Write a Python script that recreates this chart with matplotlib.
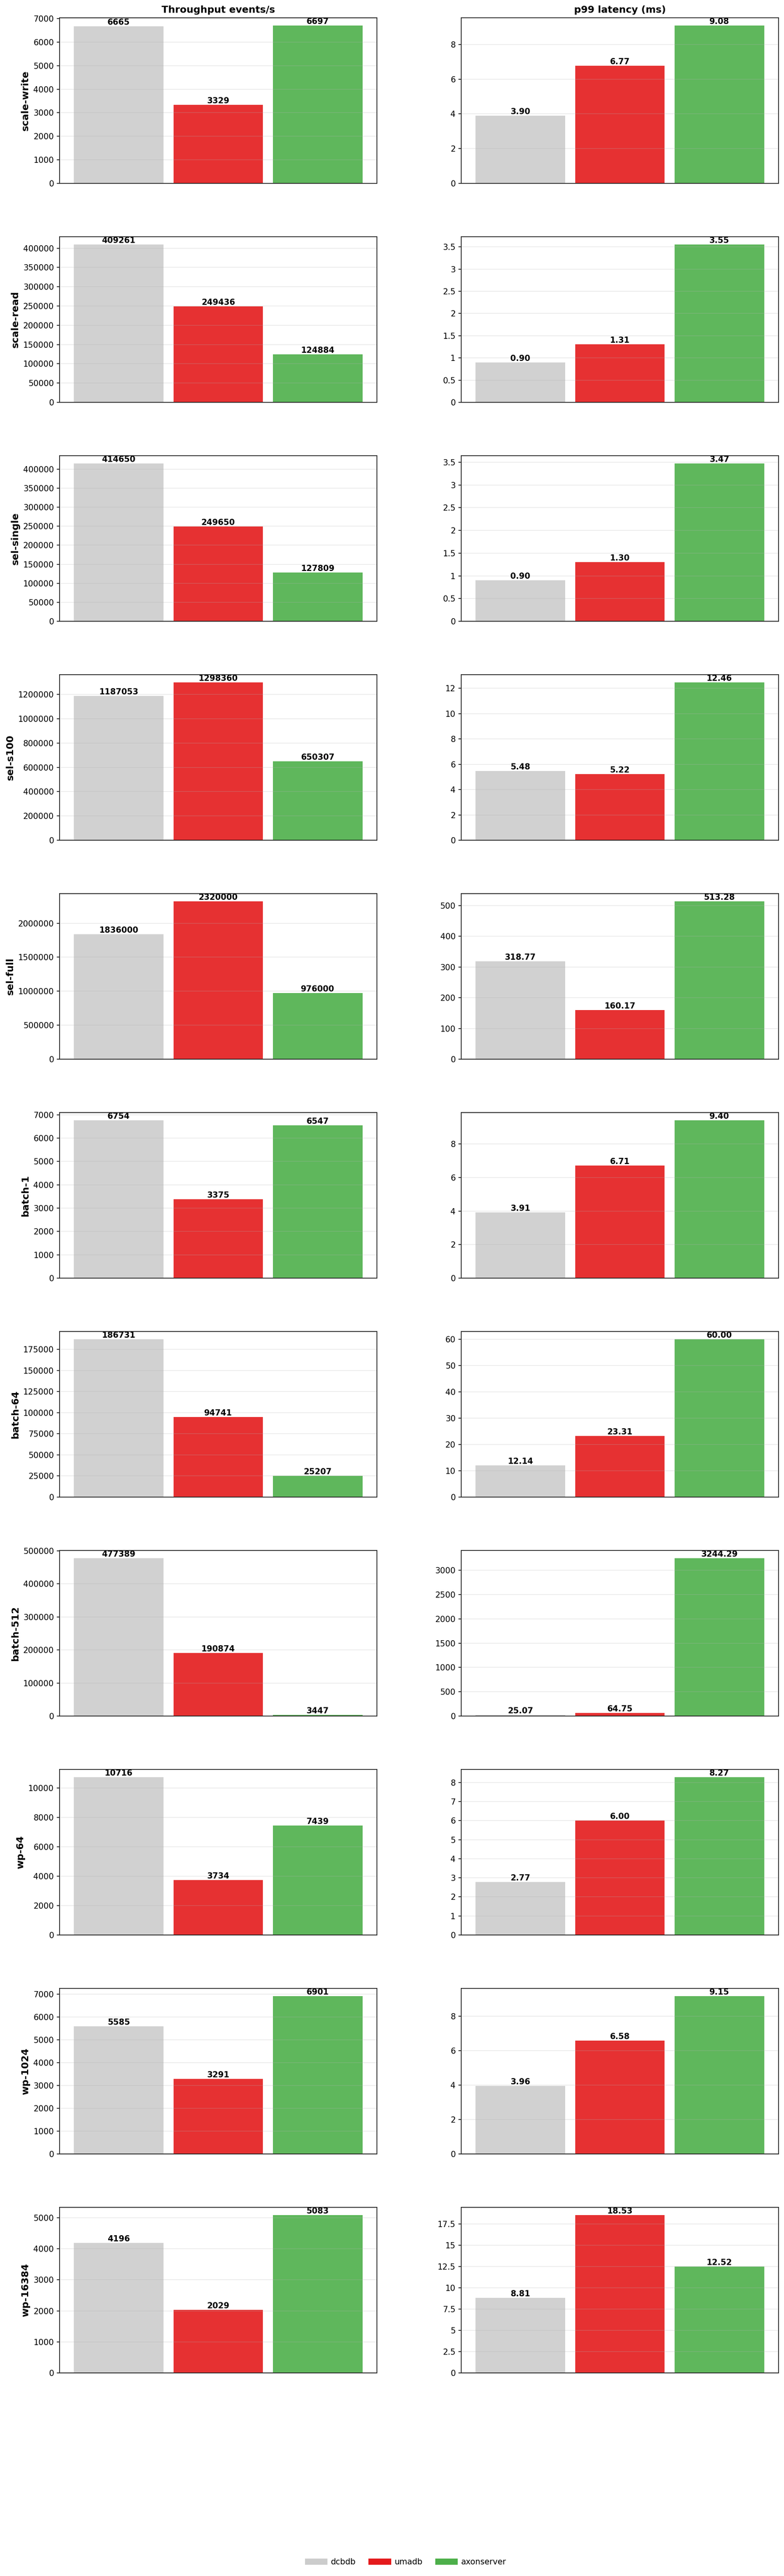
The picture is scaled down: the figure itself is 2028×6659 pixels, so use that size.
import matplotlib
matplotlib.use("Agg")
import matplotlib.pyplot as plt
from matplotlib.patches import Patch
from matplotlib.ticker import FuncFormatter

systems = ["dcbdb", "umadb", "axonserver"]
colors = ["#cccccc", "#e41a1c", "#4daf4a"]

workloads = ["scale-write", "scale-read", "sel-single", "sel-s100", "sel-full",
             "batch-1", "batch-64", "batch-512", "wp-64", "wp-1024", "wp-16384"]

throughput = [
    [6665, 3329, 6697],
    [409261, 249436, 124884],
    [414650, 249650, 127809],
    [1187053, 1298360, 650307],
    [1836000, 2320000, 976000],
    [6754, 3375, 6547],
    [186731, 94741, 25207],
    [477389, 190874, 3447],
    [10716, 3734, 7439],
    [5585, 3291, 6901],
    [4196, 2029, 5083],
]

p99_latency = [
    [3.90, 6.77, 9.08],
    [0.90, 1.31, 3.55],
    [0.90, 1.30, 3.47],
    [5.48, 5.22, 12.46],
    [318.77, 160.17, 513.28],
    [3.91, 6.71, 9.40],
    [12.14, 23.31, 60.00],
    [25.07, 64.75, 3244.29],
    [2.77, 6.00, 8.27],
    [3.96, 6.58, 9.15],
    [8.81, 18.53, 12.52],
]

col_titles = ["Throughput events/s", "p99 latency (ms)"]

W, H, DPI = 2028, 6659, 150
fig = plt.figure(figsize=(W / DPI, H / DPI), dpi=DPI)


def tick_fmt(v, _pos):
    if abs(v - round(v)) < 1e-9:
        return f"{int(round(v))}"
    return f"{v:g}"


def draw(ax, vals, fmt):
    x = range(len(vals))
    ax.bar(x, vals, width=0.9, color=colors, alpha=0.9)
    for xi, v in zip(x, vals):
        ax.text(xi, v, fmt.format(v), ha="center", va="bottom",
                fontsize=10, fontweight="bold")
    ax.set_ylim(0, max(vals) * 1.05)
    ax.set_xticks([])
    ax.yaxis.set_major_formatter(FuncFormatter(tick_fmt))
    ax.tick_params(axis="y", labelsize=10, color="#222222", width=1.0)
    ax.grid(axis="y", alpha=0.3)
    for s in ax.spines.values():
        s.set_color("#222222")
        s.set_linewidth(1.0)


col_x = [154, 1193]
ax_w, ax_h = 821, 428
top0, pitch = 46, 566

for i, name in enumerate(workloads):
    top = top0 + pitch * i
    for j, (vals, fmt) in enumerate([(throughput[i], "{:.0f}"), (p99_latency[i], "{:.2f}")]):
        ax = fig.add_axes([col_x[j] / W, (H - top - ax_h) / H, ax_w / W, ax_h / H])
        draw(ax, vals, fmt)
        if j == 0:
            ax.set_ylabel(name, fontsize=12, fontweight="bold")
        if i == 0:
            ax.set_title(col_titles[j], fontsize=12, fontweight="bold")

handles = [Patch(facecolor=c, label=s) for s, c in zip(systems, colors)]
fig.legend(handles=handles, loc="center", ncol=3, frameon=False, fontsize=10,
           bbox_to_anchor=(1049 / W, (H - 6623) / H),
           handlelength=2.8, handleheight=0.8, handletextpad=0.4, columnspacing=1.6)

fig.savefig("out.png", dpi=DPI)
